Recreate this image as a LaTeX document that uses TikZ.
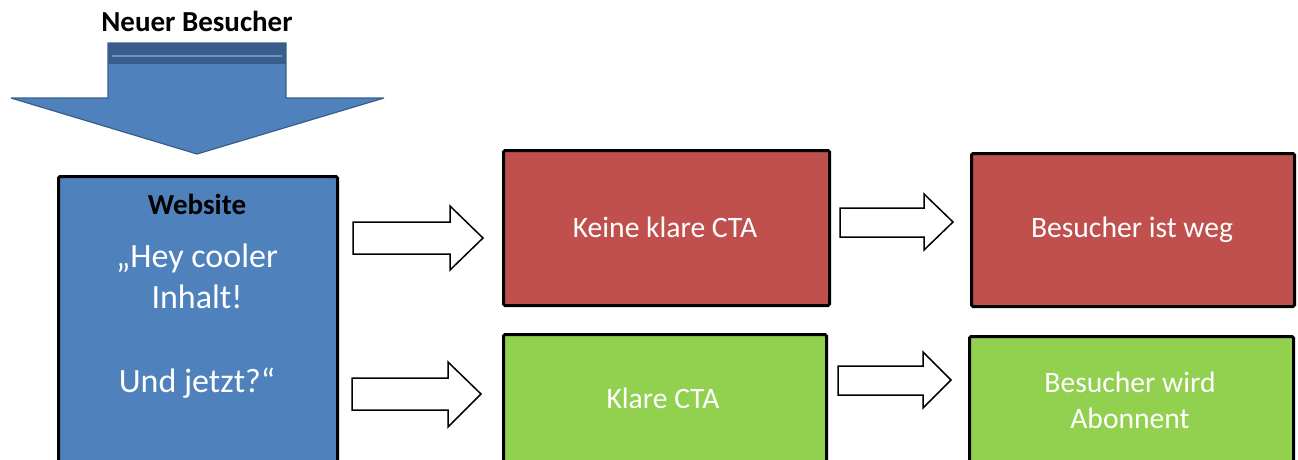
\documentclass[tikz,border=0pt]{standalone}
\usepackage{fontspec}
\setmainfont{Carlito}
\definecolor{cblue}{HTML}{4F81BD}
\definecolor{cdblue}{HTML}{3A5E8C}
\definecolor{cred}{HTML}{C0504D}
\definecolor{cgreen}{HTML}{92D050}
\begin{document}
\begin{tikzpicture}[x=1pt,y=-1pt,
  box/.style={draw=black, line width=3pt, rounded corners=1.5pt, anchor=north west, inner sep=0pt},
  wtext/.style={text=white, font=\fontsize{29.6}{36}\selectfont, align=center, inner sep=0pt},
  webline/.style={text=white, font=\fontsize{34}{41}\selectfont, anchor=base, inner sep=0pt},
  btext/.style={text=black, font=\fontsize{29}{32}\selectfont\bfseries, inner sep=0pt},
  barrow/.style={draw=black, line width=1.5pt, fill=white, line join=miter}]
\useasboundingbox (0,0) rectangle (1298,459);
\clip (0,0) rectangle (1298,459);
% title
\node[btext] (title) at (197,21) {Neuer Besucher};
% big down arrow
\draw[fill=cblue, draw=cdblue, line width=1.2pt, miter limit=3]
  (108,43) -- (286,43) -- (286,98) -- (384,98) -- (197,154) -- (11,98) -- (108,98) -- cycle;
\fill[cdblue] (108,43) rectangle (286,64);
\draw[cblue!85!white, line width=1.5pt] (112,56) -- (282,56);
% boxes
\node[box, fill=cblue, minimum width=279pt, minimum height=310pt] (web) at (57,175) {};
\node[box, fill=cred, minimum width=326pt, minimum height=155pt] (keine) at (502,149) {};
\node[box, fill=cgreen, minimum width=323pt, minimum height=150pt] (klare) at (502,333) {};
\node[box, fill=cred, minimum width=323pt, minimum height=153pt] (weg) at (970,152) {};
\node[box, fill=cgreen, minimum width=324pt, minimum height=150pt] (abo) at (968,335) {};
% texts
\node[btext] (webtitle) at (197,204) {Website};
\node[webline] (web1) at (197,267) {„Hey cooler};
\node[webline] (web2) at (197,308) {Inhalt!};
\node[webline] (web3) at (197,392) {Und jetzt?“};
\node[wtext] (keinet) at (665,227) {Keine klare CTA};
\node[wtext] (klaret) at (663,398) {Klare CTA};
\node[wtext] (wegt) at (1132,230) {Besucher ist weg};
\node[wtext] (abot) at (1130,400) {Besucher wird\\Abonnent};
% block arrows
\draw[barrow] (353,222) -- (450,222) -- (450,206) -- (483,238) -- (450,270) -- (450,254) -- (353,254) -- cycle;
\draw[barrow] (352,378) -- (448,378) -- (448,362) -- (481,394) -- (448,427) -- (448,410) -- (352,410) -- cycle;
\draw[barrow] (840,208) -- (924,208) -- (924,194) -- (953,222) -- (924,250) -- (924,237) -- (840,237) -- cycle;
\draw[barrow] (838,366) -- (923,366) -- (923,352) -- (951,380) -- (923,408) -- (923,395) -- (838,395) -- cycle;
\end{tikzpicture}
\end{document}
